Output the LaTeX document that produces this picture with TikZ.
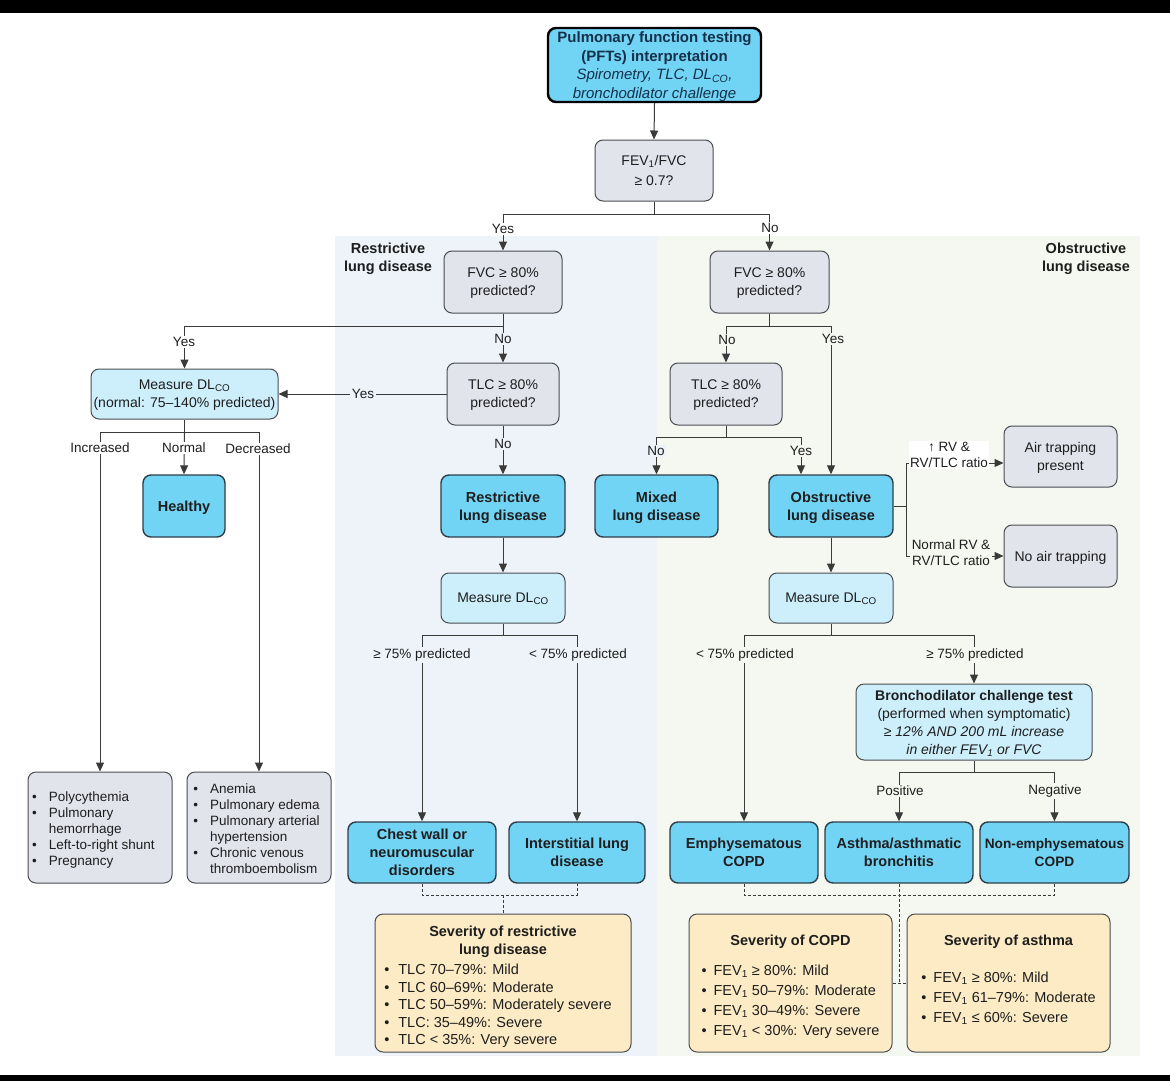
\documentclass[tikz,border=0pt]{standalone}
\usepackage{fontspec}
\setmainfont{Liberation Sans}
\usetikzlibrary{arrows.meta}
\definecolor{cyanc}{HTML}{72D4F4}
\definecolor{lbluec}{HTML}{CDEEFB}
\definecolor{grayc}{HTML}{E2E4EB}
\definecolor{yelc}{HTML}{FCEBC4}
\definecolor{restrbg}{HTML}{EEF3F9}
\definecolor{obstrbg}{HTML}{F5F8F1}
\definecolor{bordc}{HTML}{4A4D52}
\definecolor{cbord}{HTML}{2E3E48}
\definecolor{linec}{HTML}{3A3A3A}
\definecolor{txtc}{HTML}{1E1E1E}
\definecolor{navyc}{HTML}{15304A}
\newcommand{\fsbody}{\fontsize{14}{18}\selectfont}
\newcommand{\fsbold}{\fontsize{14.5}{18}\selectfont\bfseries}
\newcommand{\fslab}{\fontsize{13.5}{16}\selectfont}
\newcommand{\fslist}{\fontsize{13.5}{16}\selectfont}
\newcommand{\fssev}{\fontsize{14.5}{17.5}\selectfont}
\newcommand{\fssevb}{\fontsize{14.5}{20}\selectfont}
\newcommand{\DLCO}{DL\textsubscript{CO}}
\newcommand{\FEVa}{FEV\textsubscript{1}}
\begin{document}
\begin{tikzpicture}[x=1pt,y=-1pt,
  bx/.style={draw=bordc, line width=1pt, rounded corners=8pt, align=center, inner sep=1pt, font=\fsbody, text=txtc, text depth=-1.5pt},
  notfix/.style={text depth={}},
  cbx/.style={bx, fill=cyanc, draw=cbord, line width=1.4pt, font=\fsbold},
  gbx/.style={bx, fill=grayc},
  lbx/.style={bx, fill=lbluec},
  ybx/.style={bx, notfix, fill=yelc, font=\fssev},
  ln/.style={draw=linec, line width=1pt},
  arr/.style={ln, -{Triangle[length=9pt,width=8pt]}},
  dsh/.style={draw=linec, line width=0.9pt, dash pattern=on 3pt off 2pt},
  lab/.style={font=\fslab, inner sep=1.5pt, text=txtc},
  labw/.style={lab, fill=white},
  labr/.style={lab, fill=restrbg},
  labo/.style={lab, fill=obstrbg},
  ptitle/.style={font=\fsbold, align=center, text=txtc, text depth=-1.5pt}
]
\useasboundingbox (0,0) rectangle (1170,1081);
\fill[white] (0,0) rectangle (1170,1081);
\fill[black] (0,0) rectangle (1170,13);
\fill[black] (0,1075) rectangle (1170,1081);
% panels
\fill[restrbg] (335,236) rectangle (657,1056);
\fill[obstrbg] (657,236) rectangle (1140,1056);
\node[ptitle] (tR) at (388,257) {Restrictive\\lung disease};
\node[ptitle] (tO) at (1086,257) {Obstructive\\lung disease};

% nodes
\node[cbx, draw=black, line width=2.4pt, minimum width=213, minimum height=74, font=\fontsize{15}{18.5}\selectfont, text=navyc] (top) at (654.5,65)
  {\bfseries Pulmonary function testing\\\bfseries (PFTs) interpretation\\\itshape Spirometry, TLC, \DLCO,\\\itshape bronchodilator challenge};
\node[gbx, minimum width=118, minimum height=61, font=\fontsize{14}{20}\selectfont] (fev) at (654,170.5) {\FEVa/FVC\\≥ 0.7?};
\node[gbx, minimum width=118, minimum height=62] (fvcL) at (503,282) {FVC ≥ 80\%\\predicted?};
\node[gbx, minimum width=119, minimum height=62] (fvcR) at (769.5,282) {FVC ≥ 80\%\\predicted?};
\node[lbx, minimum width=187, minimum height=50] (dlcoL) at (184.5,394) {Measure \DLCO\\(normal: 75–140\% predicted)};
\node[gbx, minimum width=112, minimum height=62] (tlcL) at (503,394) {TLC ≥ 80\%\\predicted?};
\node[cbx, minimum width=124, minimum height=62] (restr) at (503,506) {Restrictive\\lung disease};
\node[lbx, minimum width=124, minimum height=50] (mdlcoL) at (503,598) {Measure \DLCO};
\node[cbx, minimum width=148, minimum height=61] (chest) at (422,852.5) {Chest wall or\\neuromuscular\\disorders};
\node[cbx, minimum width=136, minimum height=61] (inter) at (577,852.5) {Interstitial lung\\disease};
\node[ybx, minimum width=256, minimum height=138] (sevR) at (503,983)
  {\begin{tabular}{@{}l@{\hspace{9pt}}l@{\hspace{10pt}}}
   \noalign{\vspace{8pt}}
   \multicolumn{2}{c}{\bfseries Severity of restrictive}\\
   \multicolumn{2}{c}{\bfseries lung disease}\\[3pt]
   \textbullet & TLC 70–79\%: Mild\\
   \textbullet & TLC 60–69\%: Moderate\\
   \textbullet & TLC 50–59\%: Moderately severe\\
   \textbullet & TLC: 35–49\%: Severe\\
   \textbullet & TLC < 35\%: Very severe
   \end{tabular}};
\node[cbx, minimum width=82, minimum height=62] (healthy) at (184,506) {Healthy};
\node[gbx, notfix, minimum width=144, minimum height=111, font=\fslist] (poly) at (100,827.5)
  {\begin{tabular}{@{}l@{\hspace{12pt}}l@{\hspace{13pt}}}
   \noalign{\vspace{6pt}}
   \textbullet & Polycythemia\\
   \textbullet & Pulmonary\\
   & hemorrhage\\
   \textbullet & Left-to-right shunt\\
   \textbullet & Pregnancy
   \end{tabular}};
\node[gbx, notfix, minimum width=144, minimum height=111, font=\fslist] (anem) at (259,827.5)
  {\begin{tabular}{@{}l@{\hspace{12pt}}l@{\hspace{5pt}}}
   \noalign{\vspace{6pt}}
   \textbullet & Anemia\\
   \textbullet & Pulmonary edema\\
   \textbullet & Pulmonary arterial\\
   & hypertension\\
   \textbullet & Chronic venous\\
   & thromboembolism
   \end{tabular}};
\node[gbx, minimum width=112, minimum height=62] (tlcR) at (726,394) {TLC ≥ 80\%\\predicted?};
\node[cbx, minimum width=123, minimum height=62] (mixed) at (656.5,506) {Mixed\\lung disease};
\node[cbx, minimum width=124, minimum height=62] (obstr) at (831,506) {Obstructive\\lung disease};
\node[gbx, minimum width=113, minimum height=61] (air) at (1060.5,456.5) {Air trapping\\present};
\node[gbx, minimum width=113, minimum height=62] (noair) at (1060.5,556) {No air trapping};
\node[lbx, minimum width=124, minimum height=50] (mdlcoR) at (831,598) {Measure \DLCO};
\node[lbx, minimum width=236, minimum height=76] (broncho) at (974,722)
  {\textbf{Bronchodilator challenge test}\\(performed when symptomatic)\\\textit{≥ 12\% AND 200 mL increase}\\\textit{in either \FEVa\ or FVC}};
\node[cbx, minimum width=148, minimum height=61] (emph) at (744,852.5) {Emphysematous\\COPD};
\node[cbx, minimum width=148, minimum height=61] (asthma) at (899,852.5) {Asthma/asthmatic\\bronchitis};
\node[cbx, minimum width=149, minimum height=61, font=\fontsize{13.7}{18}\selectfont\bfseries] (nonemph) at (1054.5,852.5) {Non-emphysematous\\COPD};
\node[ybx, minimum width=203, minimum height=138, font=\fssevb] (sevC) at (790.5,983)
  {\begin{tabular}{@{}l@{\hspace{7pt}}l@{}}
   \noalign{\vspace{6pt}}
   \multicolumn{2}{c}{\bfseries Severity of COPD}\\[10pt]
   \textbullet & \FEVa\ ≥ 80\%: Mild\\
   \textbullet & \FEVa\ 50–79\%: Moderate\\
   \textbullet & \FEVa\ 30–49\%: Severe\\
   \textbullet & \FEVa\ < 30\%: Very severe
   \end{tabular}};
\node[ybx, minimum width=203, minimum height=138, font=\fssevb] (sevA) at (1008.5,983)
  {\begin{tabular}{@{}l@{\hspace{7pt}}l@{}}
   \noalign{\vspace{8pt}}
   \multicolumn{2}{c}{\bfseries Severity of asthma}\\[17pt]
   \textbullet & \FEVa\ ≥ 80\%: Mild\\
   \textbullet & \FEVa\ 61–79\%: Moderate\\
   \textbullet & \FEVa\ ≤ 60\%: Severe\\[14pt]
   \end{tabular}};

% bus coordinates
\coordinate (busA) at (654,214);
\coordinate (busB) at (503,326);
\coordinate (busC) at (503,635);
\coordinate (busD) at (184.5,432);
\coordinate (busE) at (769.5,326);
\coordinate (busF) at (726,437);
\coordinate (busG) at (831,635);
\coordinate (busH) at (974,772);
\coordinate (brT) at (906,463);
\coordinate (brM) at (906,506);
\coordinate (brB) at (906,556);
\coordinate (dR) at (499.5,895);
\coordinate (dC) at (899,895);
\coordinate (dA) at (899,983);

% connectors
\draw[arr] (top.south) -- (fev.north);
\draw[ln] (fev.south) -- (busA);
\draw[arr] (busA) -| (fvcL.north);
\draw[arr] (busA) -| (fvcR.north);
\draw[ln] (fvcL.south) -- (busB);
\draw[arr] (busB) -| (dlcoL.north);
\draw[arr] (busB) -- (tlcL.north);
\draw[arr] (tlcL.west) -- (dlcoL.east);
\draw[arr] (tlcL.south) -- (restr.north);
\draw[arr] (restr.south) -- (mdlcoL.north);
\draw[ln] (mdlcoL.south) -- (busC);
\draw[arr] (busC) -| (chest.north);
\draw[arr] (busC) -| (inter.north);
\draw[ln] (dlcoL.south) -- (busD);
\draw[arr] (busD) -- (healthy.north);
\draw[arr] (busD) -| (poly.north);
\draw[arr] (busD) -| (anem.north);
\draw[ln] (fvcR.south) -- (busE);
\draw[arr] (busE) -| (tlcR.north);
\draw[arr] (busE) -| (obstr.north);
\draw[ln] (tlcR.south) -- (busF);
\draw[arr] (busF) -| (mixed.north);
\draw[arr] (busF) -| ([xshift=-30pt]obstr.north);
\draw[ln] (obstr.east) -- (brM);
\draw[ln] (brT) -- (brB);
\draw[arr] (brT) -- (brT -| air.west);
\draw[arr] (brB) -- (brB -| noair.west);
\draw[arr] (obstr.south) -- (mdlcoR.north);
\draw[ln] (mdlcoR.south) -- (busG);
\draw[arr] (busG) -| (emph.north);
\draw[arr] (busG) -| (broncho.north);
\draw[ln] (broncho.south) -- (busH);
\draw[arr] (busH) -| (asthma.north);
\draw[arr] (busH) -| (nonemph.north);
% dashed
\draw[dsh] (chest.south) |- (dR) -| (inter.south);
\draw[dsh] (dR -| sevR.north) -- (sevR.north);
\draw[dsh] (emph.south) |- (dC) -| (nonemph.south);
\draw[dsh] (asthma.south) -- (dA);
\draw[dsh] (dA -| sevC.east) -- (dA -| sevA.west);

% labels
\node[labw] (lY1) at (503,229) {Yes};
\node[labw] (lN1) at (770,228) {No};
\node[labw] (lY2) at (184,342) {Yes};
\node[labr] (lN2) at (503,339) {No};
\node[labr] (lY3) at (363,394) {Yes};
\node[labr] (lN3) at (503,444) {No};
\node[labw] (lInc) at (100,448) {Increased};
\node[labw] (lNor) at (184,448) {Normal};
\node[labw] (lDec) at (258,449) {Decreased};
\node[labr] (lG1) at (422,655) {≥ 75\% predicted};
\node[labr] (lL1) at (578,655) {< 75\% predicted};
\node[labo] (lN4) at (727,340) {No};
\node[labo] (lY4) at (833,339) {Yes};
\node[labr] (lN5) at (656,451) {No};
\node[labo] (lY5) at (801,451) {Yes};
\node[labo] (lL2) at (745,655) {< 75\% predicted};
\node[labo] (lG2) at (975,655) {≥ 75\% predicted};
\node[labo] (lPos) at (900,791) {Positive};
\node[labo] (lNeg) at (1055,791) {Negative};
\node[labo, align=center, fill=white] (lRV1) at (949,455) {↑ RV \&\\RV/TLC ratio};
\node[labo, align=center] (lRV2) at (951,553) {Normal RV \&\\RV/TLC ratio};
\end{tikzpicture}
\end{document}
